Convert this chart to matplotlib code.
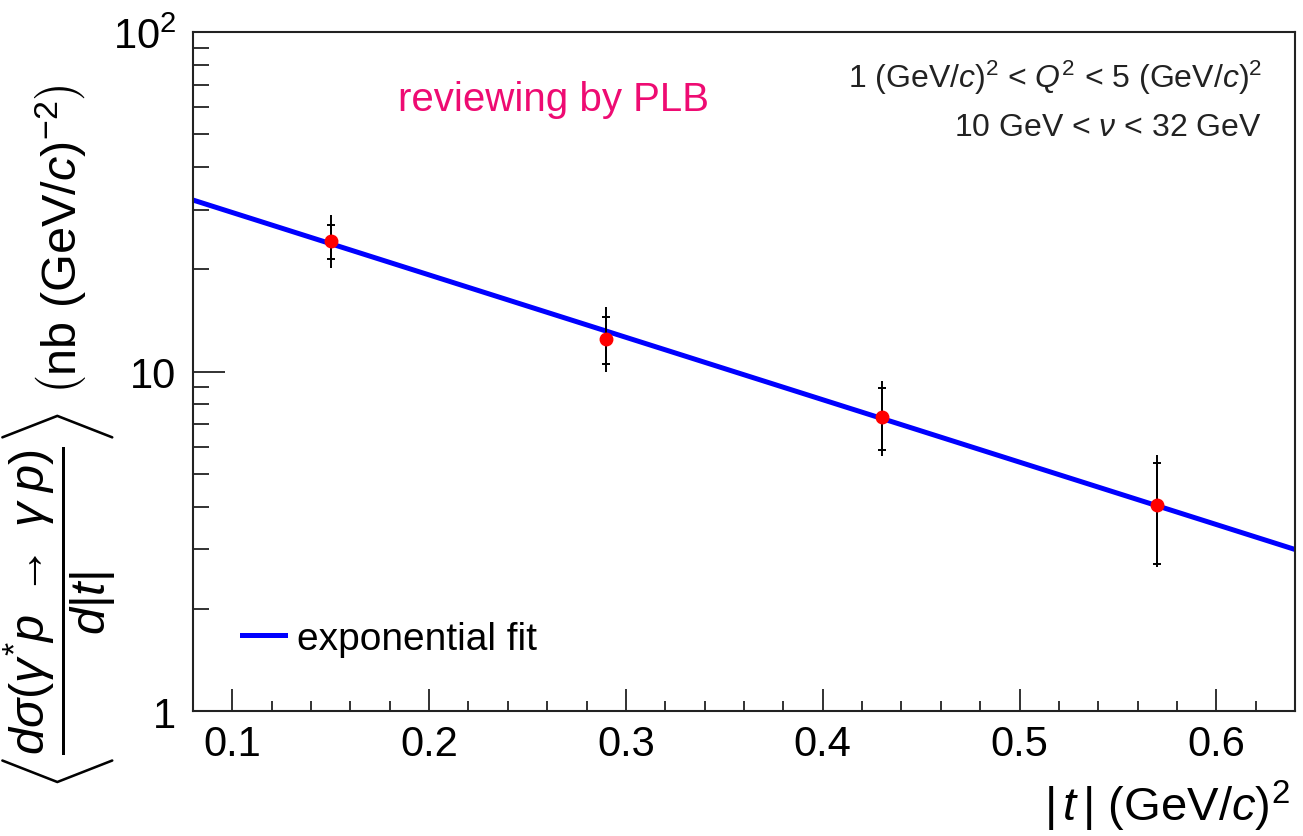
import numpy as np
import matplotlib
matplotlib.use('Agg')
import matplotlib.pyplot as plt
from matplotlib.ticker import FixedLocator, FixedFormatter, NullFormatter

plt.rcParams['font.family'] = ['Liberation Sans', 'DejaVu Sans']
plt.rcParams['mathtext.fontset'] = 'custom'
plt.rcParams['mathtext.rm'] = 'Liberation Sans'
plt.rcParams['mathtext.it'] = 'Liberation Sans:italic'
plt.rcParams['mathtext.bf'] = 'Liberation Sans:bold'

# measured points: |t| bins, cross section, inner (stat) and total errors
t_vals = [0.15, 0.29, 0.43, 0.57]
xsec = [24.3, 12.5, 7.37, 4.04]
stat_lo = [21.5, 10.5, 5.86, 2.71]
stat_hi = [27.1, 14.5, 8.97, 5.36]
tot_lo = [20.2, 10.0, 5.62, 2.65]
tot_hi = [29.0, 15.5, 9.35, 5.66]

# exponential fit, ends of the range (straight on log axis)
fit_t = [0.08, 0.64]
fit_y = [32.0, 2.99]

xsec = np.array(xsec)
stat_err = [xsec - np.array(stat_lo), np.array(stat_hi) - xsec]
tot_err = [xsec - np.array(tot_lo), np.array(tot_hi) - xsec]

fig = plt.figure(figsize=(13.03, 8.37), dpi=100)
ax = fig.add_axes([0.148, 0.1493, 0.846, 0.8113])

ax.plot(fit_t, fit_y, color='#0000ff', lw=3.6, label='exponential fit', zorder=2)
ax.errorbar(t_vals, xsec, yerr=tot_err, fmt='none', ecolor='black', elinewidth=1.4, capsize=0, zorder=3)
ax.errorbar(t_vals, xsec, yerr=stat_err, fmt='none', ecolor='black', elinewidth=1.4,
            capsize=3, capthick=1.4, zorder=3)
ax.plot(t_vals, xsec, 'o', color='#ff0000', ms=9, zorder=4)

ax.set_yscale('log')
ax.set_xlim(0.08, 0.64)
ax.set_ylim(1, 100)

ax.xaxis.set_major_locator(FixedLocator([0.1, 0.2, 0.3, 0.4, 0.5, 0.6]))
ax.xaxis.set_major_formatter(FixedFormatter(['0.1', '0.2', '0.3', '0.4', '0.5', '0.6']))
ax.xaxis.set_minor_locator(FixedLocator(np.arange(0.08, 0.641, 0.02)))
ax.yaxis.set_major_locator(FixedLocator([1, 10, 100]))
ax.yaxis.set_major_formatter(FixedFormatter(['1', '10', r'10$^{2}$']))
ax.yaxis.set_minor_locator(FixedLocator([2, 3, 4, 5, 6, 7, 8, 9, 20, 30, 40, 50, 60, 70, 80, 90]))
ax.yaxis.set_minor_formatter(NullFormatter())

ax.tick_params(axis='both', which='both', direction='in', top=False, right=False, width=1.3, colors='#222222')
ax.tick_params(axis='x', which='major', length=16, pad=9, labelsize=30, labelcolor='black')
ax.tick_params(axis='x', which='minor', length=7)
ax.tick_params(axis='y', which='major', length=23, pad=12, labelsize=30, labelcolor='black')
ax.tick_params(axis='y', which='minor', length=11.5)
for sp in ax.spines.values():
    sp.set_linewidth(1.5)
    sp.set_color('#222222')

ax.legend(loc='center left', bbox_to_anchor=(0.045, 0.106), frameon=False, fontsize=28,
          handlelength=1.1, handletextpad=0.3, borderpad=0, borderaxespad=0)

fig.text(0.3054, 0.8805, 'reviewing by PLB', color='#ee0b72', fontsize=29, ha='left', va='center')
fig.text(0.9685, 0.9068, r'1 (GeV/$c$)$^{2}$ < $Q^{2}$ < 5 (GeV/$c$)$^{2}$', fontsize=23,
         ha='right', va='center', color='#222222')
fig.text(0.9685, 0.847, r'10 GeV < $\nu$ < 32 GeV', fontsize=23, ha='right', va='center', color='#222222')

fig.text(0.99, 0.036, r'$|\,t\,|$ (GeV/$c$)$^{2}$', fontsize=34, ha='right', va='center')
fig.text(0.045, 0.478,
         r'$\left\langle\dfrac{d\sigma(\gamma^{*}p\;\rightarrow\;\gamma\;p)}{d|t|}\right\rangle$'
         r' $\left(\mathrm{nb\ (GeV/}c\mathrm{)}^{-2}\right)$',
         fontsize=35, rotation=90, ha='center', va='center')

fig.savefig('out.png', dpi=100)
